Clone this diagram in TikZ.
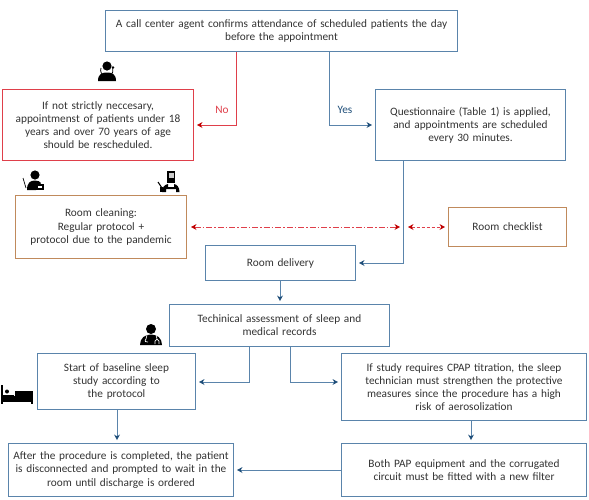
\documentclass[tikz,border=0pt]{standalone}
\usepackage{fontspec}
\setmainfont{Carlito}
\usetikzlibrary{arrows.meta}
\definecolor{bluebd}{HTML}{5A84AB}
\definecolor{bluetip}{HTML}{1F4E79}
\definecolor{redbd}{HTML}{DF3F4A}
\definecolor{redtip}{HTML}{C00000}
\definecolor{tanbd}{HTML}{C08A5C}
\definecolor{txt}{HTML}{333333}
\tikzset{
 x=1pt,y=-1pt,
 box/.style={draw=#1,line width=1pt,fill=white,text=txt,align=center,inner sep=0pt,anchor=north west,font=\fontsize{11.3}{13.2}\selectfont},
 conn/.style={bluebd,line width=1pt,shorten >=3pt,-{Stealth[length=5.5pt,width=6pt,fill=bluetip,line width=0pt]}},
 connred/.style={redbd,line width=1pt,shorten >=3pt,-{Stealth[length=5.5pt,width=6pt,fill=redtip,line width=0pt]}},
 twoway/.style={redbd,line width=0.8pt,{Stealth[length=5.5pt,width=6pt,fill=redtip,line width=0pt]}-{Stealth[length=5.5pt,width=6pt,fill=redtip,line width=0pt]}},
 lab/.style={font=\fontsize{11.3}{13.2}\selectfont,inner sep=0pt},
 icon/.style={fill=black,draw=none},
}
\newcommand{\bx}[7]{\node[box=#1,minimum width=#4pt-#2pt,minimum height=#5pt-#3pt,text width=#4pt-#2pt-2pt] (#6) at (#2,#3) {#7};}
\begin{document}
\begin{tikzpicture}
\useasboundingbox (0,0) rectangle (589,499);
\bx{bluebd}{105}{10}{457}{51}{top}{A call center agent confirms attendance of scheduled patients the day\\before the appointment}
\bx{redbd}{2}{89}{193}{160}{resch}{If not strictly neccesary,\\appointmenst of patients under 18\\years and over 70 years of age\\should be rescheduled.}
\bx{bluebd}{375}{89}{565}{160}{quest}{Questionnaire (Table 1) is applied,\\and appointments are scheduled\\every 30 minutes.}
\bx{tanbd}{15}{195}{186}{258}{clean}{Room cleaning:\\Regular protocol +\\protocol due to the pandemic}
\bx{tanbd}{448}{207}{566}{246}{check}{Room checklist}
\bx{bluebd}{205}{245}{355}{280}{deliv}{Room delivery}
\bx{bluebd}{169}{304}{389}{346}{tech}{Techinical assessment of sleep and\\medical records}
\bx{bluebd}{37}{353}{195}{409}{start}{Start of baseline sleep\\study according to\\the protocol}
\bx{bluebd}{341}{353}{586}{420}{cpap}{If study requires CPAP titration, the sleep\\technician must strengthen the protective\\measures since the procedure has a high\\risk of aerosolization}
\bx{bluebd}{8}{443}{233}{496}{after}{After the procedure is completed, the patient\\is disconnected and prompted to wait in the\\room until discharge is ordered}
\bx{bluebd}{341}{443}{586}{496}{pap}{Both PAP equipment and the corrugated\\circuit must be fitted with a new filter}

\coordinate (xno) at (236,0);
\coordinate (xyes) at (329,0);
\coordinate (xq) at (403,0);
\coordinate (xl) at (249,0);
\coordinate (xr) at (290,0);
\coordinate (xs) at (117,0);
\coordinate (xc) at (471,0);
\coordinate (xd) at (280,0);
\coordinate (gapl) at (400,227);
\coordinate (gapr) at (408,227);
\coordinate (ym) at (0,382);
\coordinate (yp) at (0,470);

\draw[connred] (top.south -| xno) |- (resch.east);
\draw[conn] (top.south -| xyes) |- (quest.west);
\draw[conn] (quest.south -| xq) |- (deliv.east);
\draw[conn] (deliv.south -| xd) -- (tech.north -| xd);
\draw[conn] (tech.south -| xl) |- (start.east |- ym);
\draw[conn] (tech.south -| xr) |- (cpap.west |- ym);
\draw[conn] (start.south -| xs) -- (after.north -| xs);
\draw[conn] (cpap.south -| xc) -- (pap.north -| xc);
\draw[conn] (pap.west |- yp) -- (after.east |- yp);
\draw[twoway,dash pattern=on 6pt off 2pt on 1.5pt off 2pt,shorten <=4pt] (clean.east |- gapl) -- (gapl);
\draw[twoway,dash pattern=on 3pt off 2pt,shorten >=3pt] (gapr) -- (check.west |- gapr);

\node[lab,text=redbd] (no) at (222,110) {No};
\node[lab,text=bluetip] (yes) at (345,110) {Yes};

% agent with headset
\fill[icon] (107,66) circle (4.6);
\fill[icon] (98,81) .. controls (98,74) and (102,72.5) .. (107,72.5) .. controls (112,72.5) and (116,74) .. (116,81) -- cycle;
\draw[line width=0.8pt] (101,68) arc (200:-20:6.2);
\fill[icon] (113,67.5) circle (1.4);
% cleaner at desk
\fill[icon] (35,175) circle (4.6);
\fill[icon] (27,190) .. controls (27,183) and (30,180.5) .. (35,180.5) .. controls (38,180.5) and (40,181.5) .. (41,183) -- (36,190) -- cycle;
\draw[line width=0.7pt] (23,178) -- (26,188);
\fill[icon] (33,183.5) rectangle (44,190);
\fill[white] (38,185.5) rectangle (42,188);
% technician with mask
\fill[icon] (167,171) rectangle (175,183);
\fill[gray!40] (168.5,173) rectangle (173.5,178);
\fill[icon] (162,192) .. controls (162,187) and (165,184.5) .. (168,184) -- (168,187) -- (174,187) -- (174,184) .. controls (177,184.5) and (179.5,187) .. (179.5,192) -- (176,192) -- (176,189) .. controls (174,189) and (168,189) .. (166,189) -- (166,192) -- cycle;
\draw[line width=1pt] (158,182) -- (162,188);
\fill[icon] (159.5,187) rectangle (162.5,192);
% doctor
\fill[icon] (151,329) circle (5);
\fill[icon] (140,345) .. controls (140,338) and (145,334.5) .. (151,334.5) .. controls (157,334.5) and (162,338) .. (162,345) -- cycle;
\draw[white,line width=0.7pt] (147,335) -- (146,339) .. controls (144,341) and (146,343) .. (148,342);
\draw[white,line width=0.7pt] (156,335) -- (157,339) (155,344) -- (155,341) -- (157,339) -- (159,341) -- (159,344);
% bed
\fill[icon] (1,385) rectangle (3,404);
\fill[icon] (1,396) rectangle (33,401.5);
\fill[icon] (31,391) rectangle (33,404);
\fill[icon] (15,391) rectangle (32,398);
\fill[icon] (7,391.5) circle (2);
\fill[icon] (3,395) rectangle (14,396.5);
\end{tikzpicture}
\end{document}
